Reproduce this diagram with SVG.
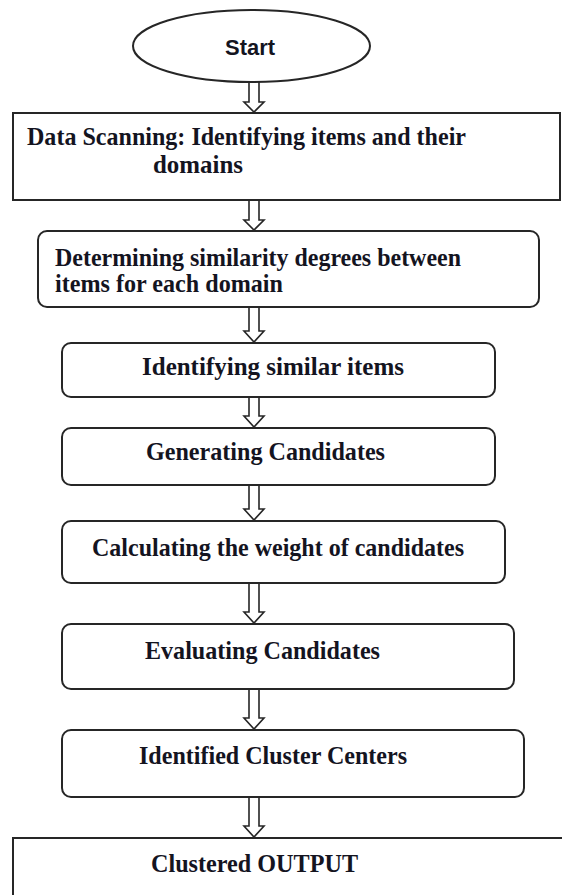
<svg xmlns="http://www.w3.org/2000/svg" width="562" height="895" viewBox="0 0 562 895">
<style>
.box{fill:#fff;stroke:#262626;stroke-width:2}
.arr{fill:#fff;stroke:#262626;stroke-width:1.6;stroke-linejoin:miter}
.t{font-family:"Liberation Serif","Times New Roman",serif;font-weight:bold;font-size:25px;fill:#14141f}
.s{font-family:"Liberation Sans",Arial,sans-serif;font-weight:bold;font-size:22px;fill:#14141f}
</style>
<rect width="562" height="895" fill="#fff"/>
<g id="connectors">
<path class="arr" d="M249,82 V102 H244 L254,112 L264,102 H259 V82"/>
<path class="arr" d="M249,200 V220 H244 L254,230 L264,220 H259 V200"/>
<path class="arr" d="M249,307 V331 H244 L254,342 L264,331 H259 V307"/>
<path class="arr" d="M249,397 V416 H244 L254,427 L264,416 H259 V397"/>
<path class="arr" d="M249,485 V509 H244 L254,520 L264,509 H259 V485"/>
<path class="arr" d="M249,583 V612 H244 L254,623 L264,612 H259 V583"/>
<path class="arr" d="M249,689 V718 H244 L254,729 L264,718 H259 V689"/>
<path class="arr" d="M249,797 V826 H244 L254,837 L264,826 H259 V797"/>
</g>
<g id="start">
<ellipse class="box" cx="251.5" cy="46" rx="118.5" ry="36"/>
<text class="s" x="225" y="55" textLength="50" lengthAdjust="spacingAndGlyphs">Start</text>
</g>
<g id="data-scanning">
<rect class="box" x="13" y="113" width="547" height="87"/>
<text class="t" x="27" y="145" textLength="439" lengthAdjust="spacingAndGlyphs">Data Scanning: Identifying items and their</text>
<text class="t" x="153" y="173" textLength="90" lengthAdjust="spacingAndGlyphs">domains</text>
</g>
<g id="similarity-degrees">
<rect class="box" x="38" y="231" width="501" height="76" rx="9"/>
<text class="t" x="55" y="266" textLength="406" lengthAdjust="spacingAndGlyphs">Determining similarity degrees between</text>
<text class="t" x="55" y="292" textLength="228" lengthAdjust="spacingAndGlyphs">items for each domain</text>
</g>
<g id="similar-items">
<rect class="box" x="62" y="343" width="433" height="54" rx="9"/>
<text class="t" x="142" y="375" textLength="262" lengthAdjust="spacingAndGlyphs">Identifying similar items</text>
</g>
<g id="generating">
<rect class="box" x="62" y="428" width="433" height="57" rx="9"/>
<text class="t" x="146" y="460" textLength="239" lengthAdjust="spacingAndGlyphs">Generating Candidates</text>
</g>
<g id="weight">
<rect class="box" x="62" y="521" width="443" height="62" rx="9"/>
<text class="t" x="92" y="556" textLength="372" lengthAdjust="spacingAndGlyphs">Calculating the weight of candidates</text>
</g>
<g id="evaluating">
<rect class="box" x="62" y="624" width="452" height="65" rx="9"/>
<text class="t" x="145" y="659" textLength="235" lengthAdjust="spacingAndGlyphs">Evaluating Candidates</text>
</g>
<g id="cluster-centers">
<rect class="box" x="62" y="730" width="462" height="67" rx="9"/>
<text class="t" x="139" y="764" textLength="268" lengthAdjust="spacingAndGlyphs">Identified Cluster Centers</text>
</g>
<g id="output">
<rect class="box" x="13" y="838" width="570" height="80"/>
<text class="t" x="151" y="872" textLength="207" lengthAdjust="spacingAndGlyphs">Clustered OUTPUT</text>
</g>
</svg>
